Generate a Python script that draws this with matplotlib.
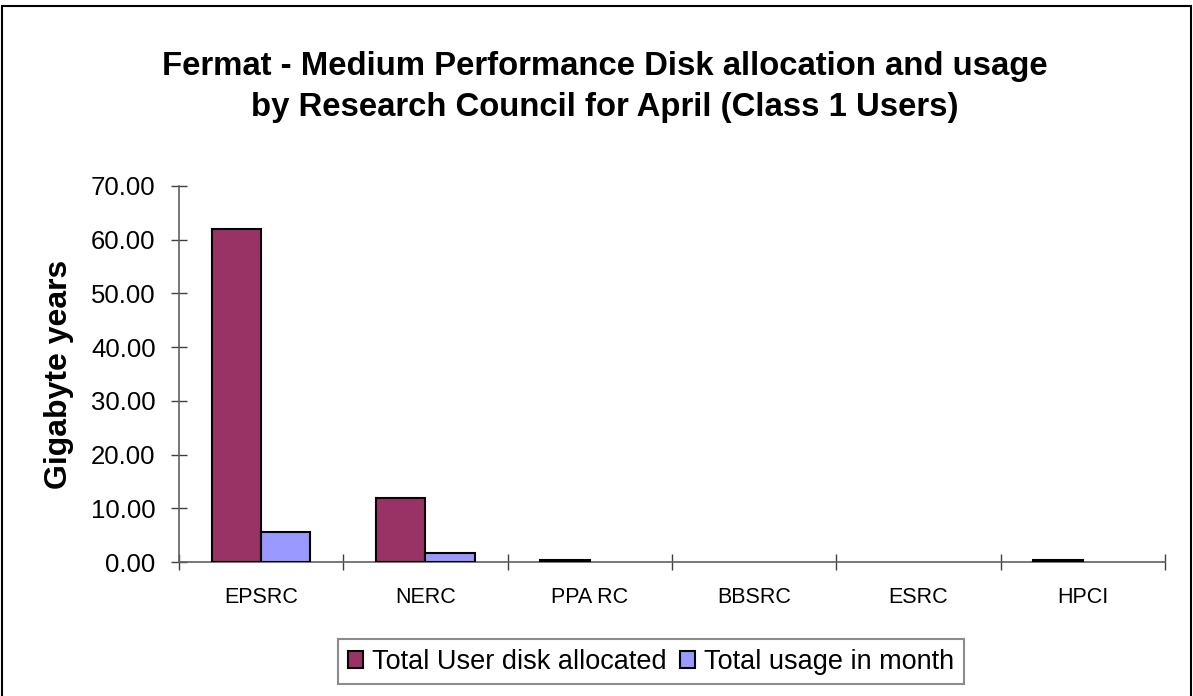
import matplotlib
matplotlib.use("Agg")
import matplotlib.pyplot as plt
from matplotlib.patches import Rectangle
import numpy as np

categories = ["EPSRC", "NERC", "PPA RC", "BBSRC", "ESRC", "HPCI"]
allocated = [62.0, 12.0, 0.3, 0.0, 0.0, 0.3]
usage = [5.5, 1.75, 0.0, 0.0, 0.0, 0.0]
yticks = [0, 10, 20, 30, 40, 50, 60, 70]

plt.rcParams['font.family'] = ['Liberation Sans', 'DejaVu Sans']

fig = plt.figure(figsize=(11.93, 6.96), dpi=100)
ax = fig.add_axes([0.150, 0.1925, 0.8265, 0.5403])

x = np.arange(len(categories))
w = 0.3
ax.bar(x - w/2, allocated, w, color="#993366", edgecolor="black",
       linewidth=[1.5 if v > 0 else 0 for v in allocated],
       label="Total User disk allocated", zorder=3)
ax.bar(x + w/2, usage, w, color="#9999FF", edgecolor="black",
       linewidth=[1.5 if v > 0 else 0 for v in usage],
       label="Total usage in month", zorder=3)

ax.set_xlim(-0.5, len(categories) - 0.5)
ax.set_ylim(0, 70)
ax.set_yticks(yticks)
ax.set_yticklabels([f"{v:.2f}" for v in yticks], fontsize=18.5)
ax.set_xticks(x)
ax.set_xticklabels(categories, fontsize=15.5)
ax.set_xticks(np.arange(-0.5, len(categories)), minor=True)
ax.tick_params(axis='x', which='major', length=0, pad=18)
ax.tick_params(axis='x', which='minor', length=11, direction='inout', color='#404040', width=1)
ax.tick_params(axis='y', which='major', length=11.5, direction='inout', color='#404040', width=1, pad=11)

for s in ['top', 'right']:
    ax.spines[s].set_visible(False)
for s in ['left', 'bottom']:
    ax.spines[s].set_color('#606060')
    ax.spines[s].set_linewidth(1.2)

ax.set_ylabel("Gigabyte years", fontsize=23, fontweight='bold', labelpad=12)

fig.text(0.507, 0.875, "Fermat - Medium Performance Disk allocation and usage\nby Research Council for April (Class 1 Users)",
         ha='center', va='center', fontsize=23.7, fontweight='bold', linespacing=1.42)

leg = fig.legend(loc='center', bbox_to_anchor=(0.5457, 0.0489), ncol=2, fontsize=19.5,
                 frameon=True, fancybox=False, edgecolor='#707070', handlelength=0.55,
                 handleheight=0.55, handletextpad=0.36, columnspacing=0.47, borderpad=0.35,
                 borderaxespad=0)
leg.get_frame().set_linewidth(1.5)
for h in leg.legend_handles:
    h.set_linewidth(1.5)

fig.patches.append(Rectangle((0.002, -0.01), 0.996, 1.001, transform=fig.transFigure,
                             fill=False, edgecolor='black', linewidth=1.5))

fig.savefig("out.png", dpi=100)
